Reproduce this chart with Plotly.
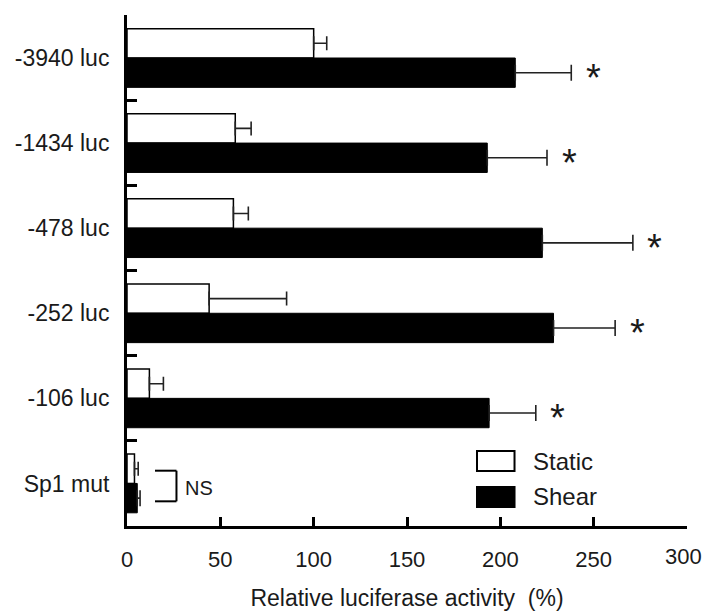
import plotly.graph_objects as go

categories = ["-3940 luc", "-1434 luc", "-478 luc", "-252 luc", "-106 luc", "Sp1 mut"]
static_vals = [100, 58, 57, 44, 12, 4]
static_err = [7, 8.5, 8, 41.5, 7.5, 2]
shear_vals = [208, 193, 222.5, 228.5, 194, 5.5]
shear_err = [30, 32, 48.5, 33, 25, 1.5]
significant = [True, True, True, True, True, False]
x_ticks = [0, 50, 100, 150, 200, 250, 300]
ns_bracket_x = [15, 26.5]
ns_label_x = 30

FONT = "Arial, Liberation Sans, sans-serif"
TXT = "#1a1a1a"

fig = go.Figure()
fig.add_trace(go.Bar(
    y=categories, x=static_vals, orientation="h", name="Static",
    marker=dict(color="white", line=dict(color="black", width=1.5)),
    error_x=dict(type="data", symmetric=False, array=static_err,
                 arrayminus=[0] * len(static_err), color="#222", thickness=1.6, width=7),
))
fig.add_trace(go.Bar(
    y=categories, x=shear_vals, orientation="h", name="Shear",
    marker=dict(color="black", line=dict(color="black", width=1)),
    error_x=dict(type="data", symmetric=False, array=shear_err,
                 arrayminus=[0] * len(shear_err), color="#222", thickness=1.6, width=8),
))

# significance asterisks
for i, (c, v, e, s) in enumerate(zip(categories, shear_vals, shear_err, significant)):
    if s:
        fig.add_annotation(x=v + e, y=i, xref="x", yref="y", text="*", showarrow=False,
                           xshift=22, yshift=-20, font=dict(family=FONT, size=38, color=TXT))

# NS bracket for last category
idx = len(categories) - 1
y_top, y_bot = idx - 0.15, idx + 0.21
line_style = dict(color="black", width=2)
fig.add_shape(type="line", xref="x", yref="y", x0=ns_bracket_x[0], x1=ns_bracket_x[1], y0=y_top, y1=y_top, line=line_style)
fig.add_shape(type="line", xref="x", yref="y", x0=ns_bracket_x[1], x1=ns_bracket_x[1], y0=y_top, y1=y_bot, line=line_style)
fig.add_shape(type="line", xref="x", yref="y", x0=ns_bracket_x[0], x1=ns_bracket_x[1], y0=y_bot, y1=y_bot, line=line_style)
fig.add_annotation(x=ns_label_x, y=idx + 0.05, xref="x", yref="y", text="NS", showarrow=False,
                   xanchor="left", yanchor="middle", font=dict(family=FONT, size=20, color=TXT))

# custom legend
leg = [("Static", "white", 0.1076, 0.1468, 0.127), ("Shear", "black", 0.0372, 0.0763, 0.0568)]
for name, col, y0, y1, yt in leg:
    fig.add_shape(type="rect", xref="paper", yref="paper", x0=0.625, x1=0.692, y0=y0, y1=y1,
                  fillcolor=col, line=dict(color="black", width=2))
    fig.add_annotation(x=0.722, y=yt, xref="paper", yref="paper", text=name, showarrow=False,
                       xanchor="left", yanchor="middle", font=dict(family=FONT, size=24, color=TXT))

# last x tick label drawn as annotation, nudged left so it stays inside the page edge
tick_text = [str(t) for t in x_ticks]
tick_text[-1] = ""
fig.add_annotation(x=x_ticks[-1], y=0, xref="x", yref="paper", text=str(x_ticks[-1]), showarrow=False,
                   xanchor="center", yanchor="middle", xshift=-4, yshift=-30,
                   font=dict(family=FONT, size=22, color=TXT))

fig.update_layout(
    width=704, height=612,
    margin=dict(l=126.5, r=17.3, t=15, b=86),
    paper_bgcolor="white", plot_bgcolor="white",
    barmode="group", bargap=0.31, bargroupgap=0,
    showlegend=False,
    font=dict(family=FONT, color=TXT),
)
fig.update_xaxes(
    range=[0, 300], tickvals=x_ticks, ticktext=tick_text,
    showline=True, linecolor="black", linewidth=3,
    ticks="inside", ticklen=9, tickwidth=2.5, tickcolor="black",
    showgrid=False, zeroline=False, ticklabelstandoff=12,
    tickfont=dict(family=FONT, size=22, color=TXT),
    title=dict(text="Relative luciferase activity  (%)", standoff=19,
               font=dict(family=FONT, size=23, color=TXT)),
    automargin=False,
)
fig.update_yaxes(
    autorange="reversed", categoryorder="array", categoryarray=categories,
    showline=True, linecolor="black", linewidth=3,
    ticks="inside", tickson="boundaries", ticklen=10, tickwidth=2.5, tickcolor="black",
    showgrid=False, zeroline=False, ticklabelstandoff=10,
    tickfont=dict(family=FONT, size=23, color=TXT),
    automargin=False,
)

fig.write_html("out.html", config={"displayModeBar": False},
               post_script="document.body.style.margin='0';document.body.style.overflow='hidden';")
